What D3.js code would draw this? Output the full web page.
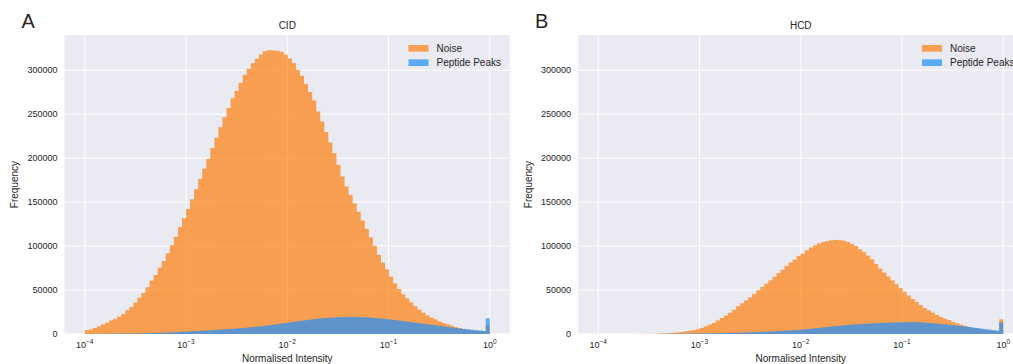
<!DOCTYPE html>
<html>
<head>
<meta charset="utf-8">
<script src="https://cdn.jsdelivr.net/npm/d3@7"></script>
<style>
  body { margin:0; background:#fff; }
  text { font-family: "Liberation Sans", Arial, sans-serif; fill:#262626; }
</style>
</head>
<body>
<div id="chart"></div>
<script>
// 100 log-spaced bins between 1e-4 and 1e0
const binEdges = d3.range(101).map(i => Math.pow(10, -4 + i * 0.04))

const noiseCID = [4500,5300,6800,8700,11000,12900,15500,17400,19700,22800,
  26900,30700,35700,41300,46600,53100,60700,67100,75500,83000,
  91800,100900,110400,121400,131600,142200,153200,164600,176300,188100,
  199100,211600,223300,235100,246500,257000,268100,276400,285600,294700,
  301500,308000,312900,317800,321600,322700,322300,322000,320800,317800,
  313300,308000,300400,293600,284100,275000,265500,253000,241700,229600,
  217800,205700,192400,179100,167800,158000,148500,139000,129000,119500,
  110000,100100,89900,81200,73600,65200,57600,51200,45100,40600,
  36000,31500,27700,24300,21200,18600,16700,14400,12500,11000,
  9500,8000,6800,5700,4900,4200,3800,3400,3000,10200]

const peptideCID = [100,120,150,180,210,250,290,330,380,430,
  490,560,640,730,830,940,1060,1200,1350,1520,
  1700,1900,2100,2350,2600,2850,3100,3350,3600,3850,
  4100,4400,4700,5000,5300,5600,5950,6300,6650,7000,
  7400,7850,8300,8800,9300,9800,10450,11150,11900,12500,
  13100,13750,14400,15000,15600,16200,16800,17300,17800,18200,
  18500,18800,19000,19150,19300,19350,19350,19250,19100,18850,
  18550,18200,17800,17350,16900,16400,15850,15300,14700,14100,
  13500,12900,12300,11700,11100,10500,9900,9300,8700,8100,
  7500,6900,6300,5800,5300,4800,4300,3900,3500,17800]

const noiseHCD = [0,0,0,0,0,0,0,0,0,0,
  50,100,150,250,350,500,700,950,1250,1700,
  2300,2900,3600,4300,5400,6800,8700,10600,12500,15500,
  18200,20900,24300,27700,31500,34900,38300,41700,45500,49700,
  53500,57300,61100,64900,69400,73200,77400,81200,84600,88800,
  91400,95200,98300,101000,103000,104500,105600,106400,106900,106800,
  106200,104700,102400,100100,96300,93300,89100,84900,79600,74300,
  69800,65400,61000,56600,52200,47900,43800,39900,36300,32900,
  29600,26900,24300,21600,19300,17400,15900,13700,12100,10600,
  9100,8000,6800,6100,5300,4600,4200,3800,3000,16700]

const peptideHCD = [0,0,0,0,0,0,0,0,0,0,
  0,0,0,0,0,100,130,170,210,260,
  300,350,400,460,530,600,680,760,850,940,
  1050,1150,1250,1370,1480,1600,1750,1900,2050,2200,
  2400,2600,2800,3050,3300,3600,3850,4100,4400,4700,
  5100,5500,5950,6400,6900,7400,7900,8400,8900,9400,
  9850,10250,10600,10950,11250,11550,11800,12050,12300,12500,
  12700,12900,13050,13200,13300,13400,13450,13450,13400,13300,
  12900,12600,12250,11850,11450,11000,10550,10050,9550,9050,
  8500,7950,7350,6750,6150,5550,4900,4300,3800,13300]

const yTicks = [0,50000,100000,150000,200000,250000,300000]
const xTicks = [-4,-3,-2,-1,0]
const seriesNames = ["Noise","Peptide Peaks"]

function render(){
  let width = 1013, height = 364,
      top = 35, plotW = 445.5, plotH = 299

  const panels = [
    { letter:"A", title:"CID", left:64.5, noise:noiseCID, pep:peptideCID },
    { letter:"B", title:"HCD", left:578, noise:noiseHCD, pep:peptideHCD }
  ]
  const colors = ["#ff7f0e","#1e90ff"]

  let svg = d3.select("#chart").append("svg")
    .attr("width",width).attr("height",height)

  let xScale = d3.scaleLog().domain([Math.pow(10,-4.2),Math.pow(10,0.2)]).range([0,plotW])
  let yScale = d3.scaleLinear().domain([0,340000]).range([plotH,0])

  panels.forEach(p => {
    let g = svg.append("g").attr("transform",`translate(${p.left},${top})`)
    g.append("rect").attr("width",plotW).attr("height",plotH).attr("fill","#eaeaf2")

    // grid
    g.selectAll(".gy").data(yTicks).enter().append("line")
      .attr("x1",0).attr("x2",plotW)
      .attr("y1",d=>yScale(d)).attr("y2",d=>yScale(d))
      .attr("stroke","#fff").attr("stroke-width",1)
    g.selectAll(".gx").data(xTicks).enter().append("line")
      .attr("x1",d=>xScale(Math.pow(10,d))).attr("x2",d=>xScale(Math.pow(10,d)))
      .attr("y1",0).attr("y2",plotH)
      .attr("stroke","#fff").attr("stroke-width",1)

    // histograms, noise first then peptide peaks on top
    // bars overlap a little inside an opacity group so no seams show
    ;[p.noise,p.pep].forEach((vals,si) => {
      let hg = g.append("g").attr("opacity",0.7)
      hg.selectAll("rect")
        .data(vals.map((v,i)=>({v:v,i:i})).filter(d=>d.v>0))
        .enter().append("rect")
        .attr("x",d=>xScale(binEdges[d.i]))
        .attr("width",d=>xScale(binEdges[d.i+1])-xScale(binEdges[d.i]) + (d.i<99 ? 0.6 : 0))
        .attr("y",d=>yScale(d.v))
        .attr("height",d=>yScale(0)-yScale(d.v))
        .attr("fill",colors[si])
    })

    // y tick labels
    g.selectAll(".yl").data(yTicks).enter().append("text")
      .attr("x",-7).attr("y",d=>yScale(d)).attr("dy","0.33em")
      .attr("text-anchor","end").attr("font-size",9)
      .text(d=>d)

    // x tick labels 10^n
    xTicks.forEach(t => {
      let tx = g.append("text")
        .attr("x",xScale(Math.pow(10,t))).attr("y",plotH+13.5)
        .attr("text-anchor","middle").attr("font-size",9)
      tx.append("tspan").text("10")
      tx.append("tspan").attr("dy",-4).attr("font-size",6.5).text(t===0 ? "0" : "\u2212"+Math.abs(t))
    })

    g.append("text").attr("x",plotW/2).attr("y",-6.5)
      .attr("text-anchor","middle").attr("font-size",10).text(p.title)
    g.append("text").attr("x",plotW/2).attr("y",plotH+27.5)
      .attr("text-anchor","middle").attr("font-size",10).text("Normalised Intensity")
    g.append("text").attr("transform",`translate(-46.5,${plotH/2}) rotate(-90)`)
      .attr("text-anchor","middle").attr("font-size",10).text("Frequency")
    svg.append("text").attr("x",p.left-43).attr("y",28.3)
      .attr("font-size",20).text(p.letter)

    // legend
    let lg = g.append("g").attr("transform","translate(344,10)")
    seriesNames.forEach((n,i) => {
      lg.append("rect").attr("x",0).attr("y",i*14.3).attr("width",20).attr("height",6.7)
        .attr("fill",colors[i]).attr("opacity",0.7)
      lg.append("text").attr("x",28).attr("y",i*14.3+7).attr("font-size",10).text(n)
    })
  })
}

render()
</script>
</body>
</html>
